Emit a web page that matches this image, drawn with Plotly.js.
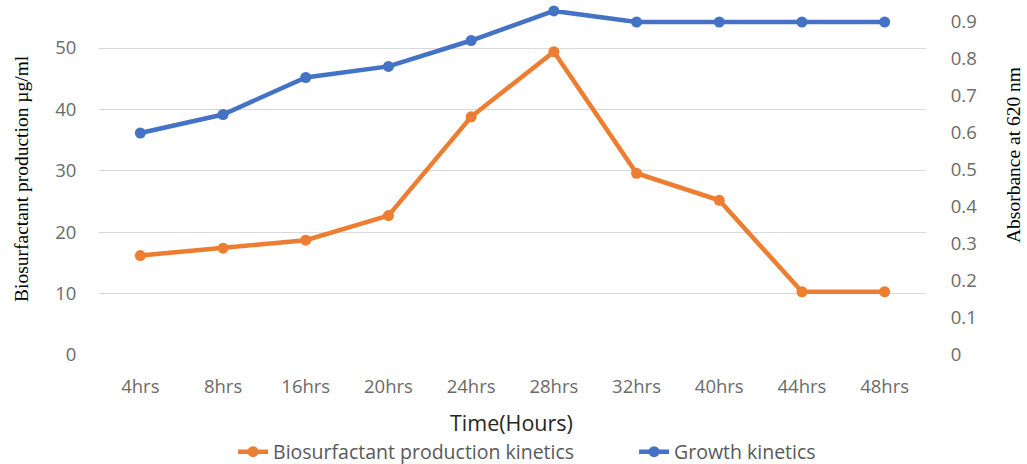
<!DOCTYPE html>
<html>
<head>
<meta charset="utf-8">
<script src="https://cdn.plot.ly/plotly-3.0.1.min.js"></script>
<style>html,body{margin:0;padding:0;background:#fff;}#chart{width:1027px;height:464px;}</style>
</head>
<body>
<div id="chart"></div>
<script>
var categories = ["4hrs","8hrs","16hrs","20hrs","24hrs","28hrs","32hrs","40hrs","44hrs","48hrs"];
var biosurfactant = [16.2, 17.4, 18.7, 22.7, 38.8, 49.4, 29.6, 25.2, 10.3, 10.3];
var growth = [0.60, 0.65, 0.75, 0.78, 0.85, 0.93, 0.90, 0.90, 0.90, 0.90];
var leftTicks = [0, 10, 20, 30, 40, 50];
var rightTicks = [0, 0.1, 0.2, 0.3, 0.4, 0.5, 0.6, 0.7, 0.8, 0.9];

var tickFont = {family: "Open Sans, sans-serif", size: 18.5, color: "#6b6b6b"};

var data = [
  {x: categories, y: biosurfactant, name: "Biosurfactant production kinetics", type: "scatter", mode: "lines+markers",
   yaxis: "y", line: {color: "#ED7D31", width: 4.5}, marker: {color: "#ED7D31", size: 11}, cliponaxis: false},
  {x: categories, y: growth, name: "Growth kinetics", type: "scatter", mode: "lines+markers",
   yaxis: "y2", line: {color: "#4472C4", width: 4.5}, marker: {color: "#4472C4", size: 11}, cliponaxis: false}
];

var layout = {
  width: 1027, height: 464,
  margin: {l: 99, r: 101, t: 10, b: 109, autoexpand: false},
  paper_bgcolor: "#fff", plot_bgcolor: "#fff",
  showlegend: true,
  legend: {orientation: "h", x: 0.647, xanchor: "center", yref: "container", y: 1 - 452/464, yanchor: "middle",
    font: {family: "Open Sans, sans-serif", size: 19.5, color: "#595959"}, entrywidth: 356, traceorder: "normal"},
  xaxis: {type: "category", range: [-0.5, 9.5], showgrid: false, zeroline: false, showline: false, automargin: false,
    tickfont: tickFont, ticks: "outside", ticklen: 15, tickcolor: "rgba(0,0,0,0)"},
  yaxis: {range: [0, 345/6.14], tickvals: leftTicks, showgrid: true, gridcolor: "#d9d9d9", gridwidth: 1, automargin: false,
    zeroline: false, showline: false, tickfont: tickFont, ticks: "outside", ticklen: 18, tickcolor: "rgba(0,0,0,0)"},
  yaxis2: {range: [0, 345/370], tickvals: rightTicks, overlaying: "y", side: "right", showgrid: false, automargin: false,
    zeroline: false, showline: false, tickfont: tickFont, ticks: "outside", ticklen: 20, tickcolor: "rgba(0,0,0,0)"},
  annotations: [
    {text: "Time(Hours)", xref: "paper", yref: "paper", x: (511 - 99) / 827, y: (355 - 423) / 345,
     showarrow: false, xanchor: "center", yanchor: "middle",
     font: {family: "Open Sans, sans-serif", size: 21.5, color: "#262626"}},
    {text: "Biosurfactant production µg/ml", xref: "paper", yref: "paper", x: (21 - 99) / 827, y: (355 - 179) / 345, textangle: -90,
     showarrow: false, xanchor: "center", yanchor: "middle",
     font: {family: "Liberation Serif, Times New Roman, serif", size: 19.5, color: "#000"}},
    {text: "Absorbance at 620 nm", xref: "paper", yref: "paper", x: (1013 - 99) / 827, y: (355 - 155) / 345, textangle: -90,
     showarrow: false, xanchor: "center", yanchor: "middle",
     font: {family: "Liberation Serif, Times New Roman, serif", size: 19.5, color: "#000"}}
  ]
};

Plotly.newPlot("chart", data, layout, {displayModeBar: false, staticPlot: true});
</script>
</body>
</html>
